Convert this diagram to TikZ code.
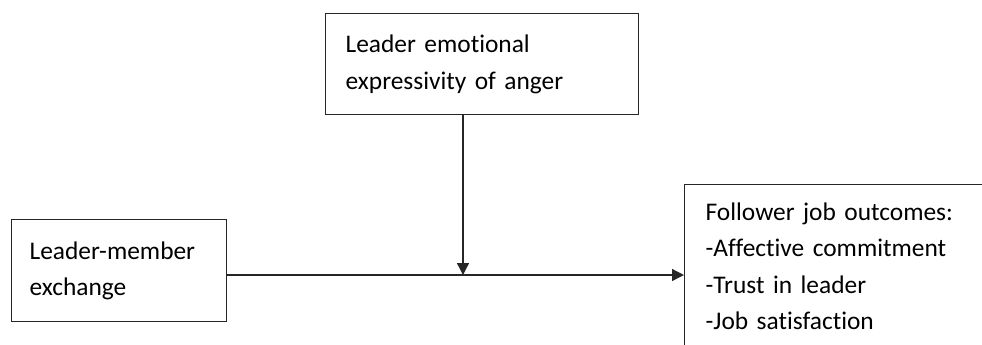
\documentclass[tikz,border=0pt]{standalone}
\usepackage{fontspec}
\setmainfont{Carlito}[Ligatures=NoCommon]
\usetikzlibrary{arrows.meta, positioning}

\begin{document}
\begin{tikzpicture}[
    x=0.5pt, y=-0.5pt,
    box/.style={rectangle, draw=black!85, line width=0.65pt, align=left, anchor=north west, font=\fontsize{12.7}{18.25}\selectfont},
    arrow/.style={-{Triangle[length=6pt, width=6pt]}, draw=black!85, line width=0.65pt}
]
\useasboundingbox (0,0) rectangle (982,344);
\clip (0,0) rectangle (982,344);

% Nodes
\node[box, inner xsep=10pt, text width=136.5pt, minimum height=50.5pt] (anger) at (325,13) {Leader emotional\\expressivity of anger};
\node[box, inner xsep=9pt, text width=89.5pt, minimum height=51pt] (lmx) at (11,219) {Leader-member\\exchange};
\node[box, inner xsep=10.5pt, inner ysep=9pt, text width=140pt] (outcomes) at (684,184) {Follower job outcomes:\\-Affective commitment\\-Trust in leader\\-Job satisfaction};

% Arrows
\coordinate (meet) at (463,275);
\draw[arrow] (lmx.east |- meet) -- (outcomes.west |- meet);
\draw[arrow] (anger.south -| meet) -- (meet);

\end{tikzpicture}
\end{document}
